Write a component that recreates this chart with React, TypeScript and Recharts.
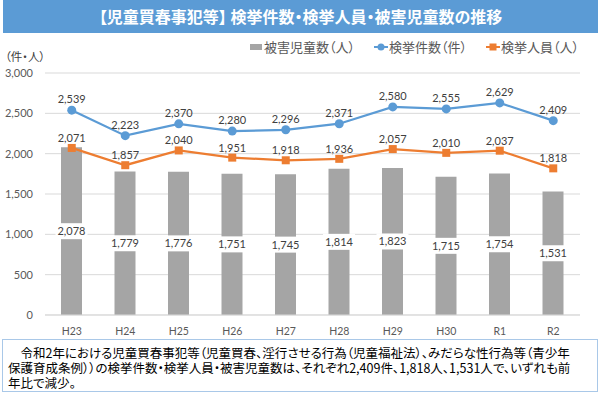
import React from "react";
import {
  Bar,
  CartesianGrid,
  ComposedChart,
  LabelList,
  Line,
  XAxis,
  YAxis,
} from "recharts";

const years = ["H23", "H24", "H25", "H26", "H27", "H28", "H29", "H30", "R1", "R2"];
const victims = [2078, 1779, 1776, 1751, 1745, 1814, 1823, 1715, 1754, 1531];
const cases = [2539, 2223, 2370, 2280, 2296, 2371, 2580, 2555, 2629, 2409];
const arrests = [2071, 1857, 2040, 1951, 1918, 1936, 2057, 2010, 2037, 1818];
const yTicks = [0, 500, 1000, 1500, 2000, 2500, 3000];

const data = years.map((year, i) => ({
  year,
  victims: victims[i],
  cases: cases[i],
  arrests: arrests[i],
}));

const BLUE = "#5b9bd5";
const ORANGE = "#ed7d31";
const GRAY = "#a5a5a5";
const NUM_FONT = "Lato, 'Noto Sans', sans-serif";
const JP_FONT = "'Noto Sans CJK JP', sans-serif";

const fmt = (v: number) => v.toLocaleString("en-US");

function BarValueLabel(props: any) {
  const { x, y, width, height, value } = props;
  const cx = x + width / 2;
  const cy = y + height / 2;
  return (
    <g>
      <rect x={cx - 16} y={cy - 8} width={32} height={16} fill="#fff" />
      <text
        x={cx}
        y={cy}
        dy="0.36em"
        textAnchor="middle"
        fill="#404040"
        fontSize={11}
        fontFamily={NUM_FONT}
      >
        {fmt(value)}
      </text>
    </g>
  );
}

function SquareDot(props: any) {
  const { cx, cy } = props;
  return <rect x={cx - 4} y={cy - 4} width={8} height={8} fill={ORANGE} />;
}

function LegendItem({ kind, color, label }: { kind: "bar" | "circle" | "square"; color: string; label: string }) {
  return (
    <div style={{ display: "flex", alignItems: "center" }}>
      <svg width={14} height={10} style={{ marginRight: 1 }}>
        {kind === "bar" ? (
          <rect x={1} y={2} width={12} height={6} fill={color} />
        ) : (
          <>
            <line x1={0} y1={5} x2={14} y2={5} stroke={color} strokeWidth={2} />
            {kind === "circle" ? (
              <circle cx={7} cy={5} r={3.5} fill={color} />
            ) : (
              <rect x={3.5} y={1.5} width={7} height={7} fill={color} />
            )}
          </>
        )}
      </svg>
      <span>{label}</span>
    </div>
  );
}

export default function App() {
  return (
    <div
      style={{
        position: "absolute",
        left: 0,
        top: 0,
        width: 600,
        height: 393,
        background: "#fff",
        overflow: "hidden",
        fontFamily: JP_FONT,
        fontFeatureSettings: '"palt"',
      }}
    >
      <div
        style={{
          position: "absolute",
          left: 3,
          top: 0,
          width: 595,
          height: 33,
          background: BLUE,
          color: "#fff",
          fontWeight: 700,
          fontSize: 16,
          lineHeight: "33px",
          textAlign: "center",
        }}
      >
        【児童買春事犯等】 検挙件数・検挙人員・被害児童数の推移
      </div>

      <ComposedChart
        width={600}
        height={340}
        data={data}
        margin={{ top: 73, right: 20, bottom: 0, left: 0 }}
        style={{ position: "absolute", left: 0, top: 0 }}
      >
        <CartesianGrid stroke="#d9d9d9" vertical={false} />
        <XAxis
          dataKey="year"
          height={25}
          axisLine={{ stroke: "#d9d9d9" }}
          tickLine={false}
          tickMargin={7}
          tick={{ fill: "#595959", fontSize: 10.5, fontFamily: NUM_FONT }}
        />
        <YAxis
          width={45}
          domain={[0, 3000]}
          ticks={yTicks}
          axisLine={false}
          tickLine={false}
          tickMargin={6}
          tickFormatter={fmt}
          tick={{ fill: "#595959", fontSize: 11, fontFamily: NUM_FONT }}
        />
        <Bar dataKey="victims" fill={GRAY} barSize={21} isAnimationActive={false}>
          <LabelList dataKey="victims" content={<BarValueLabel />} />
        </Bar>
        <Line
          dataKey="cases"
          stroke={BLUE}
          strokeWidth={2.25}
          dot={{ r: 4.5, fill: BLUE, stroke: BLUE, strokeWidth: 0 }}
          activeDot={false}
          isAnimationActive={false}
        >
          <LabelList
            dataKey="cases"
            position="top"
            offset={7}
            formatter={fmt}
            fill="#404040"
            fontSize={11}
            fontFamily={NUM_FONT}
          />
        </Line>
        <Line
          dataKey="arrests"
          stroke={ORANGE}
          strokeWidth={2.25}
          dot={<SquareDot />}
          activeDot={false}
          isAnimationActive={false}
        >
          <LabelList
            dataKey="arrests"
            position="top"
            offset={6}
            formatter={fmt}
            fill="#404040"
            fontSize={11}
            fontFamily={NUM_FONT}
          />
        </Line>
      </ComposedChart>

      <div
        style={{
          position: "absolute",
          left: 5,
          top: 48,
          fontSize: 11.5,
          color: "#404040",
        }}
      >
        （件・人）
      </div>

      <div
        style={{
          position: "absolute",
          left: 249,
          top: 37,
          display: "flex",
          gap: 19,
          fontSize: 13,
          color: "#595959",
        }}
      >
        <LegendItem kind="bar" color={GRAY} label="被害児童数（人）" />
        <LegendItem kind="circle" color={BLUE} label="検挙件数（件）" />
        <LegendItem kind="square" color={ORANGE} label="検挙人員（人）" />
      </div>

      <div
        style={{
          position: "absolute",
          left: 2,
          top: 339,
          width: 596,
          height: 53,
          border: "1px solid #a9c8e8",
          fontSize: 12.5,
          lineHeight: "15px",
          color: "#000",
          padding: "5px 0 0 5px",
          boxSizing: "border-box",
          whiteSpace: "nowrap",
        }}
      >
        <div>　令和2年における児童買春事犯等（児童買春、淫行させる行為（児童福祉法）、みだらな性行為等（青少年</div>
        <div>保護育成条例））の検挙件数・検挙人員・被害児童数は、それぞれ2,409件、1,818人、1,531人で、いずれも前</div>
        <div>年比で減少。</div>
      </div>
    </div>
  );
}
